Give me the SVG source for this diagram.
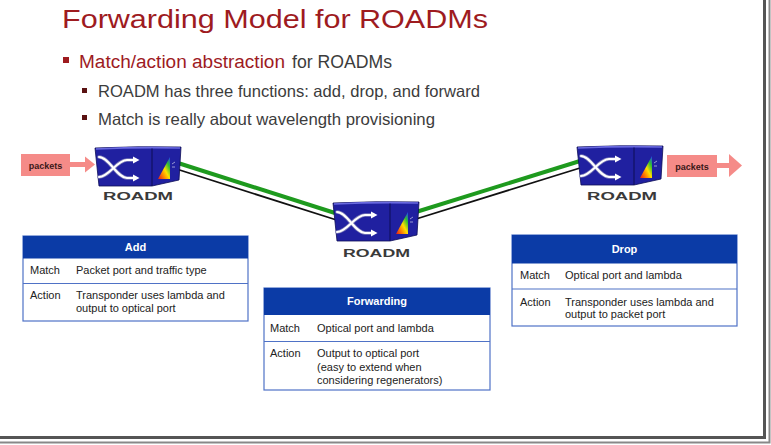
<svg xmlns="http://www.w3.org/2000/svg" xmlns:xlink="http://www.w3.org/1999/xlink" width="771" height="445" viewBox="0 0 771 445">
<style>
text{font-family:"Liberation Sans",Arial,sans-serif}
.title{font-size:26px;fill:#9e1b1f}
.b1{font-size:18px}
.b2{font-size:16.5px;fill:#3c3c3c}
.red{fill:#9e1b1f}
.gray{fill:#3c3c3c}
.lbl{font-size:11.5px;font-weight:bold;fill:#3a3a3a}
.pk{font-size:9px;font-weight:bold;fill:#3a1818;text-anchor:middle}
.pkbox{fill:#f58b88}
.hdr{fill:#0b3ba6}
.hdrt{font-size:11px;font-weight:bold;fill:#ffffff;text-anchor:middle}
.tbl{fill:#ffffff;stroke:#4f72c6;stroke-width:1.2}
.sep{stroke:#4f72c6;stroke-width:1.2}
.cell{font-size:11px;fill:#222222}
.green{stroke:#1e9a1e;stroke-width:4;fill:none}
.black{stroke:#111111;stroke-width:1.8;fill:none}
.frame1{stroke:#555555;stroke-width:3;fill:none}
.frame2{stroke:#888888;stroke-width:2;fill:none}
</style>
<defs>
<linearGradient id="rainbow" x1="0" y1="1" x2="1" y2="0">
<stop offset="0" stop-color="#e01818"/>
<stop offset="0.3" stop-color="#ff8a00"/>
<stop offset="0.5" stop-color="#ffe000"/>
<stop offset="0.75" stop-color="#30c030"/>
<stop offset="1" stop-color="#2040ff"/>
</linearGradient>
<g id="roadm">
<path d="M0,1 Q43,-1 86,0 L84,33 L57,39 L4,39 Z" fill="#2020a0" stroke="#0c0c55" stroke-width="0.8"/>
<path d="M1,2 Q43,0 85,1" fill="none" stroke="#6a6ae0" stroke-width="1.6"/>
<path d="M57,1.5 L57,39" stroke="#0c0c55" stroke-width="1"/>
<polygon points="75,10 75,32 63,32" fill="url(#rainbow)"/>
<path d="M77,17 L80,15 M77,20 L80,20" stroke="#b8b8e0" stroke-width="0.8"/>
<g fill="none" stroke-linecap="round">
<path d="M4,10 C14,10 22,31 32,31 L39,31 M4,30 C14,30 22,13 32,13 L39,13" stroke="#7a7ab8" stroke-width="3.6"/>
<path d="M4,10 C14,10 22,31 32,31 L39,31 M4,30 C14,30 22,13 32,13 L39,13" stroke="#ffffff" stroke-width="2"/>
</g>
<polygon points="38,9.5 44.5,13 38,16.5" fill="#ffffff"/>
<polygon points="38,27.5 44.5,31 38,34.5" fill="#ffffff"/>
</g>
</defs>
<rect width="771" height="445" fill="#ffffff"/>
<path class="frame1" d="M764.5,0 L764.5,437.5 L0,437.5"/>
<path class="frame2" d="M769.5,0 L769.5,442.5 L0,442.5"/>

<g id="title">
<text class="title" x="62" y="28" textLength="426" lengthAdjust="spacingAndGlyphs">Forwarding Model for ROADMs</text>
</g>
<g id="bullets">
<rect x="63" y="57" width="6" height="6" fill="#9e1b1f"/>
<text class="b1 red" x="79" y="68" textLength="206" lengthAdjust="spacingAndGlyphs">Match/action abstraction</text>
<text class="b1 gray" x="292" y="68" textLength="100" lengthAdjust="spacingAndGlyphs">for ROADMs</text>
<rect x="82" y="88" width="5" height="5" fill="#5a1212"/>
<text class="b2" x="98" y="97" textLength="382" lengthAdjust="spacingAndGlyphs">ROADM has three functions: add, drop, and forward</text>
<rect x="82" y="115" width="5" height="5" fill="#5a1212"/>
<text class="b2" x="98" y="125" textLength="337" lengthAdjust="spacingAndGlyphs">Match is really about wavelength provisioning</text>
</g>

<g id="connectors">
<path class="green" d="M178,163 L335,213"/>
<path class="black" d="M178,169.5 L335,219.5"/>
<path class="green" d="M416,212 L580,161"/>
<path class="black" d="M416,219 L580,168"/>
</g>

<g id="packets-in">
<rect class="pkbox" x="21" y="154" width="49" height="22"/>
<rect class="pkbox" x="70" y="162" width="16" height="5"/>
<polygon class="pkbox" points="85,156.5 95,164.5 85,172.5"/>
<text class="pk" x="45.5" y="169">packets</text>
</g>
<g id="packets-out">
<rect class="pkbox" x="667" y="155" width="50" height="22"/>
<rect class="pkbox" x="717" y="163" width="13" height="5"/>
<polygon class="pkbox" points="729,154 742,165.5 729,177"/>
<text class="pk" x="692" y="170">packets</text>
</g>

<g id="roadm-left">
<use xlink:href="#roadm" x="95" y="147"/>
<text class="lbl" x="103" y="200" textLength="70" lengthAdjust="spacingAndGlyphs">ROADM</text>
</g>
<g id="roadm-middle">
<use xlink:href="#roadm" x="333" y="202"/>
<text class="lbl" x="343" y="257" textLength="67" lengthAdjust="spacingAndGlyphs">ROADM</text>
</g>
<g id="roadm-right">
<use xlink:href="#roadm" x="577" y="146"/>
<text class="lbl" x="587" y="200" textLength="70" lengthAdjust="spacingAndGlyphs">ROADM</text>
</g>

<g id="table-add">
<rect class="tbl" x="23" y="236" width="225" height="85"/>
<rect class="hdr" x="23" y="236" width="225" height="22.5"/>
<text class="hdrt" x="135.5" y="251">Add</text>
<line class="sep" x1="23" y1="283.5" x2="248" y2="283.5"/>
<text class="cell" x="30" y="273.5">Match</text>
<text class="cell" x="76" y="273.5">Packet port and traffic type</text>
<text class="cell" x="30" y="298.5">Action</text>
<text class="cell" x="76" y="298.5">Transponder uses lambda and</text>
<text class="cell" x="76" y="312">output to optical port</text>
</g>

<g id="table-forwarding">
<rect class="tbl" x="264" y="288" width="226" height="102"/>
<rect class="hdr" x="264" y="288" width="226" height="27"/>
<text class="hdrt" x="377" y="305">Forwarding</text>
<line class="sep" x1="264" y1="341.5" x2="490" y2="341.5"/>
<text class="cell" x="270" y="331.5">Match</text>
<text class="cell" x="317" y="331.5">Optical port and lambda</text>
<text class="cell" x="270" y="357">Action</text>
<text class="cell" x="317" y="357">Output to optical port</text>
<text class="cell" x="317" y="370.5">(easy to extend when</text>
<text class="cell" x="317" y="384">considering regenerators)</text>
</g>

<g id="table-drop">
<rect class="tbl" x="512" y="235" width="225" height="91"/>
<rect class="hdr" x="512" y="235" width="225" height="28.5"/>
<text class="hdrt" x="624.5" y="252.5">Drop</text>
<line class="sep" x1="512" y1="289" x2="737" y2="289"/>
<text class="cell" x="520" y="279">Match</text>
<text class="cell" x="565" y="279">Optical port and lambda</text>
<text class="cell" x="520" y="305.5">Action</text>
<text class="cell" x="565" y="305.5">Transponder uses lambda and</text>
<text class="cell" x="565" y="318">output to packet port</text>
</g>
</svg>
